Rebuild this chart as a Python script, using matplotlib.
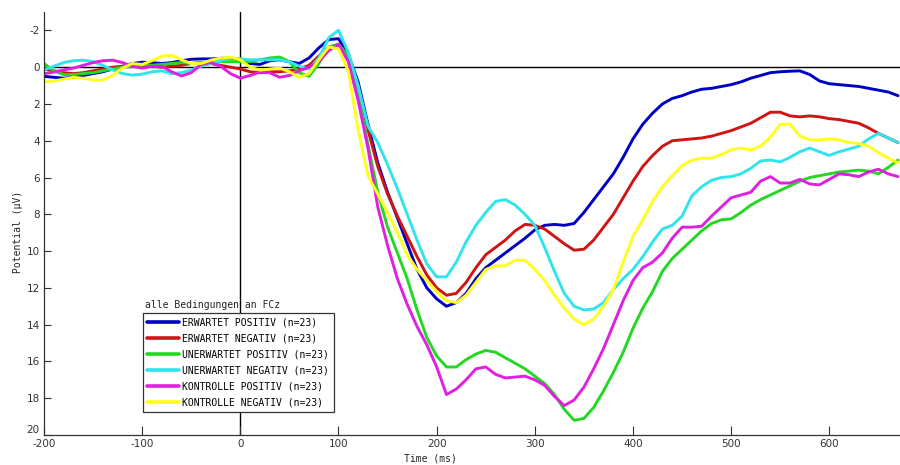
import numpy as np
import matplotlib
matplotlib.use("Agg")
import matplotlib.pyplot as plt
import matplotlib.transforms as mtransforms

plt.rcParams["axes.unicode_minus"] = False

# Time axis (ms), sampled every 10 ms
time_ms = np.arange(-200, 680, 10)

erwartet_positiv = [
    0.5, 0.55, 0.6, 0.55, 0.45, 0.35, 0.25, 0.1, -0.05, -0.2,
    -0.27, -0.25, -0.2, -0.25, -0.35, -0.43, -0.45, -0.45, -0.48, -0.5,
    -0.4, -0.2, -0.15, -0.35, -0.4, -0.3, -0.2, -0.5, -1.05, -1.5,
    -1.55, -0.7, 0.8, 3.1, 5.2, 6.8, 8.2, 9.6, 11.0, 12.0,
    12.6, 13.0, 12.8, 12.3, 11.5, 10.9, 10.5, 10.1, 9.7, 9.3,
    8.85, 8.6, 8.55, 8.6, 8.5, 7.9, 7.2, 6.5, 5.8, 4.9,
    3.9, 3.1, 2.5, 2.0, 1.7, 1.55, 1.35, 1.2, 1.15, 1.05,
    0.95, 0.8, 0.6, 0.45, 0.3, 0.25, 0.22, 0.2, 0.4, 0.75,
    0.9, 0.95, 1.0, 1.05, 1.15, 1.25, 1.35, 1.55,
]

erwartet_negativ = [
    0.1, 0.2, 0.3, 0.35, 0.3, 0.2, 0.1, 0.0, -0.05, -0.1,
    -0.1, -0.05, 0.0, -0.05, -0.1, -0.2, -0.25, -0.2, -0.1, 0.0,
    0.1, 0.25, 0.3, 0.25, 0.25, 0.2, 0.1, -0.1, -0.6, -1.1,
    -1.2, -0.5, 1.2, 3.4, 5.4, 6.9, 8.1, 9.2, 10.3, 11.3,
    12.0, 12.4, 12.3, 11.7, 10.9, 10.2, 9.8, 9.4, 8.9, 8.55,
    8.6, 8.8, 9.2, 9.6, 9.95, 9.9, 9.4, 8.7, 8.0, 7.1,
    6.2, 5.4, 4.8, 4.3, 4.0, 3.95, 3.9, 3.85, 3.75, 3.6,
    3.45, 3.25, 3.05, 2.75, 2.45, 2.45, 2.65, 2.7, 2.65, 2.7,
    2.8, 2.85, 2.95, 3.05, 3.3, 3.6, 3.85, 4.1,
]

unerwartet_positiv = [
    -0.2, 0.2, 0.4, 0.4, 0.35, 0.3, 0.2, 0.1, 0.0, -0.05,
    -0.1, -0.1, -0.15, -0.2, -0.25, -0.2, -0.25, -0.3, -0.3, -0.3,
    -0.3, -0.3, -0.4, -0.5, -0.55, -0.3, 0.3, 0.5, -0.2, -1.1,
    -1.25, -0.6, 1.5, 4.2, 6.8, 8.7, 10.1, 11.5, 13.2, 14.7,
    15.7, 16.3, 16.3, 15.9, 15.6, 15.4, 15.5, 15.8, 16.1, 16.4,
    16.8, 17.2, 17.8, 18.6, 19.2, 19.1, 18.5, 17.6, 16.6, 15.5,
    14.2, 13.1, 12.2, 11.1, 10.4, 9.9, 9.4, 8.9, 8.5, 8.3,
    8.25, 7.9, 7.5, 7.2, 6.95, 6.7, 6.45, 6.2, 6.0, 5.9,
    5.8, 5.7, 5.65, 5.6, 5.65, 5.8, 5.45, 5.05,
]

unerwartet_negativ = [
    0.15, -0.05, -0.25, -0.35, -0.38, -0.3, -0.1, 0.15, 0.35, 0.43,
    0.38, 0.25, 0.2, 0.35, 0.3, 0.15, -0.05, -0.2, -0.35, -0.5,
    -0.45, -0.4, -0.4, -0.4, -0.4, -0.3, -0.05, 0.1, -0.5, -1.6,
    -2.0, -0.8, 1.0, 3.2, 4.1, 5.3, 6.6, 8.0, 9.4, 10.7,
    11.4, 11.4, 10.6, 9.5, 8.6, 7.9, 7.3, 7.2, 7.5, 8.0,
    8.6, 9.8, 11.1, 12.3, 13.0, 13.2, 13.15, 12.8, 12.1, 11.5,
    11.0, 10.3, 9.5, 8.8, 8.6, 8.1, 7.0, 6.5, 6.15, 6.0,
    5.95, 5.8, 5.5, 5.1, 5.05, 5.15, 4.9, 4.6, 4.4, 4.6,
    4.8, 4.6, 4.45, 4.3, 3.9, 3.6, 3.85, 4.1,
]

kontrolle_positiv = [
    0.35, 0.27, 0.15, 0.05, -0.1, -0.25, -0.35, -0.38, -0.25, -0.05,
    0.05, -0.05, -0.05, 0.25, 0.48, 0.3, -0.15, -0.25, -0.05, 0.35,
    0.6, 0.45, 0.27, 0.3, 0.55, 0.45, 0.2, 0.0, -0.3, -0.9,
    -1.25, -0.3, 1.8, 4.4, 7.6, 9.7, 11.5, 12.9, 14.1, 15.1,
    16.3, 17.8, 17.5, 17.0, 16.4, 16.3, 16.7, 16.9, 16.85, 16.8,
    17.0, 17.3, 17.9, 18.4, 18.1, 17.4, 16.4, 15.3, 14.0, 12.7,
    11.6, 10.9, 10.6, 10.1, 9.3, 8.7, 8.7, 8.65, 8.1, 7.6,
    7.1, 6.95, 6.8, 6.2, 5.95, 6.3, 6.3, 6.1, 6.35, 6.4,
    6.1, 5.8, 5.85, 5.95, 5.7, 5.55, 5.8, 5.95,
]

kontrolle_negativ = [
    0.8, 0.75, 0.65, 0.55, 0.6, 0.7, 0.7, 0.45, 0.05, -0.2,
    -0.15, -0.35, -0.6, -0.65, -0.4, -0.2, -0.2, -0.38, -0.5, -0.55,
    -0.4, 0.0, 0.16, 0.1, 0.05, 0.25, 0.55, 0.35, -0.4, -1.1,
    -1.0, 0.2, 3.4, 5.9, 6.9, 7.9, 9.0, 10.2, 11.0, 11.6,
    12.2, 12.7, 12.8, 12.4, 11.7, 11.0, 10.8, 10.8, 10.5, 10.5,
    11.0, 11.6, 12.4, 13.1, 13.7, 14.0, 13.7, 13.0, 12.1, 10.6,
    9.2, 8.3, 7.3, 6.5, 5.9, 5.35, 5.05, 4.95, 4.95, 4.75,
    4.5, 4.4, 4.5, 4.3, 3.8, 3.1, 3.1, 3.75, 3.95, 3.95,
    3.9, 3.95, 4.1, 4.15, 4.3, 4.65, 4.95, 5.2,
]

labels = [
    "ERWARTET POSITIV (n=23)",
    "ERWARTET NEGATIV (n=23)",
    "UNERWARTET POSITIV (n=23)",
    "UNERWARTET NEGATIV (n=23)",
    "KONTROLLE POSITIV (n=23)",
    "KONTROLLE NEGATIV (n=23)",
]
series = [erwartet_positiv, erwartet_negativ, unerwartet_positiv,
          unerwartet_negativ, kontrolle_positiv, kontrolle_negativ]
colors = ["#0000c4", "#d01414", "#22d822", "#30e4ec", "#e020e0", "#ffff1e"]

x_ticks = [-200, -100, 0, 100, 200, 300, 400, 500, 600]
y_ticks = [-2, 0, 2, 4, 6, 8, 10, 12, 14, 16, 18, 20]

W, H = 900, 465
fig = plt.figure(figsize=(W / 100, H / 100), dpi=100)
ax = fig.add_axes([44 / W, 30 / H, (W - 44) / W, (435 - 12) / H])

for vals, col, lab in zip(series, colors, labels):
    ax.plot(time_ms, vals, color=col, lw=2.1, label=lab,
            solid_joinstyle="round", solid_capstyle="round")

# reference lines through the origin
ax.axhline(0, color="black", lw=1.0, zorder=1)
ax.axvline(0, color="black", lw=1.0, zorder=1)

ax.set_xlim(-200, 672)
ax.set_ylim(20, -3)
ax.set_xticks(x_ticks)
ax.set_yticks(y_ticks)
for s in ("top", "right"):
    ax.spines[s].set_visible(False)
for s in ("left", "bottom"):
    ax.spines[s].set_color("#333333")
    ax.spines[s].set_linewidth(0.9)
ax.tick_params(axis="x", direction="in", length=6.5, width=0.8,
               colors="#333333", labelsize=7.5, pad=3)
ax.tick_params(axis="y", direction="in", length=5, width=0.8,
               colors="#333333", labelsize=7.5, pad=3)

# lift the bottom y label a little so it sits above the first x label
fig.canvas.draw()
bottom_label = ax.get_yticklabels()[-1]
bottom_label.set_transform(bottom_label.get_transform() +
                           mtransforms.ScaledTranslation(0, 6 / 100,
                                                         fig.dpi_scale_trans))

mono = "DejaVu Sans Mono"
fig.text(430 / W, 1 - 458 / H, "Time (ms)", ha="center", va="center",
         family=mono, fontsize=7, color="#222222")
fig.text(18 / W, 1 - 232 / H, "Potential (\u00b5V)", ha="center", va="center",
         rotation=90, family=mono, fontsize=7, color="#222222")
fig.text(145 / W, 1 - 305 / H, "alle Bedingungen an FCz", ha="left",
         va="center", family=mono, fontsize=7, color="#222222")

leg = ax.legend(loc="upper left", bbox_to_anchor=(143 / W, 1 - 313 / H),
                bbox_transform=fig.transFigure, frameon=True, fancybox=False,
                framealpha=1, borderaxespad=0, borderpad=0.45,
                handlelength=3.3, handletextpad=0.3, labelspacing=0.62,
                prop={"family": mono, "size": 7})
leg.get_frame().set_edgecolor("#333333")
leg.get_frame().set_linewidth(0.9)
for line in leg.get_lines():
    line.set_linewidth(2.6)

fig.savefig("out.png", dpi=100)
